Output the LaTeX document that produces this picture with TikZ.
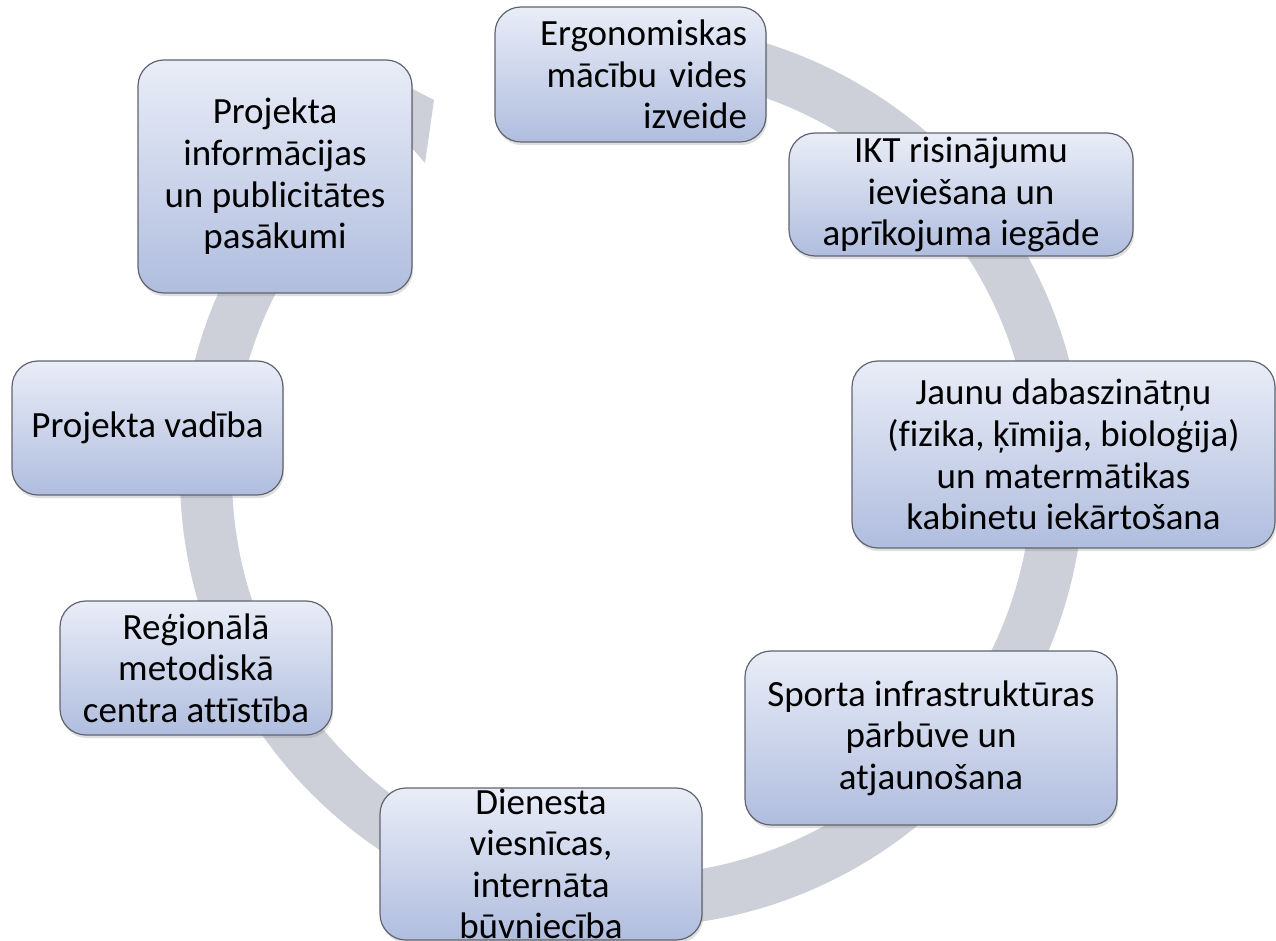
\documentclass[tikz,border=0pt]{standalone}
\usepackage{fontspec}
\setmainfont{Carlito}[Ligatures=NoCommon]
\usetikzlibrary{shadows}
\definecolor{ringgray}{RGB}{205,208,217}
\definecolor{boxtop}{RGB}{233,237,247}
\definecolor{boxbot}{RGB}{176,189,222}
\definecolor{boxline}{RGB}{96,100,110}
\tikzset{
	stage/.style={draw=boxline,line width=0.6pt,rounded corners=13pt,top color=boxtop,bottom color=boxbot,
		align=center,inner sep=0pt,font=\fontsize{18.5}{20.8}\selectfont,
		drop shadow={opacity=0.25,shadow xshift=0.6pt,shadow yshift=-1.6pt}},
	ring/.style={draw=ringgray,line width=26pt},
}
\begin{document}
\begin{tikzpicture}[x=0.5pt,y=-0.5pt]
				\useasboundingbox (0,0) rectangle (1276,941);
				\coordinate (O) at (632,475);
				\coordinate (E) at (630.5,74.5);
				\coordinate (I) at (961,194.5);
				\coordinate (J) at (1063.5,454.5);
				\coordinate (S) at (931,738);
				\coordinate (D) at (541,864);
				\coordinate (R) at (196,668);
				\coordinate (V) at (147.5,428);
				\coordinate (P) at (275,176.5);
				\draw [ring] (O) ++(260:426) arc [start angle=260,end angle=597,radius=426];
				\fill [ringgray] (405,85) -- (434,100) -- (425,163) -- (405,140) -- cycle;
				\node [stage,minimum width=135.5pt,minimum height=67.5pt,text width=116.5pt,align=right] (ergo) at (E) {Ergonomiskas\\mācību vides\\izveide};
				\node [stage,minimum width=172pt,minimum height=61.5pt] (ikt) at (I) {IKT risinājumu\\ieviešana un\\aprīkojuma iegāde};
				\node [stage,minimum width=211.5pt,minimum height=93.5pt] (jaunu) at (J) {Jaunu dabaszinātņu\\(fizika, ķīmija, bioloģija)\\un matermātikas\\kabinetu iekārtošana};
				\node [stage,minimum width=186pt,minimum height=87pt] (sporta) at (S) {Sporta infrastruktūras\\pārbūve un\\atjaunošana};
				\node [stage,minimum width=161pt,minimum height=76pt,inner ysep=-2.5pt] (dien) at (D) {Dienesta\\viesnīcas,\\internāta\\būvniecība};
				\node [stage,minimum width=136pt,minimum height=67pt] (regi) at (R) {Reģionālā\\metodiskā\\centra attīstība};
				\node [stage,minimum width=135.5pt,minimum height=67pt] (vad) at (V) {Projekta vadība};
				\node [stage,minimum width=137pt,minimum height=116.5pt] (info) at (P) {Projekta\\informācijas\\un publicitātes\\pasākumi};
\end{tikzpicture}
\end{document}
